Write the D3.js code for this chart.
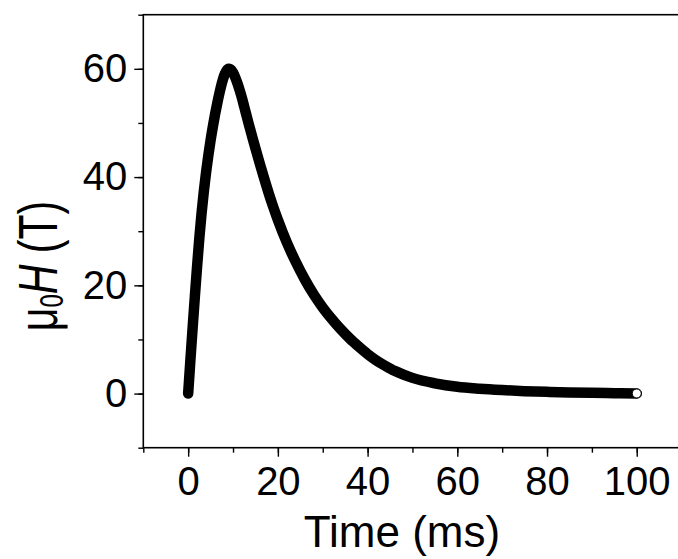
<!DOCTYPE html>
<html><head><meta charset="utf-8">
<script src="https://cdn.jsdelivr.net/npm/d3@7"></script>
<style>body{margin:0;background:#fff}svg{display:block}</style>
</head><body>
<script>
const timeMs = [0,0.5,1,1.5,2,2.5,3,3.5,4,4.5,5,5.5,6,6.5,7,7.5,8,8.5,9,9.5,10,10.5,11,11.5,12,12.5,13,13.5,14,15,16,17,18,19,20,22,24,26,28,30,32,34,36,38,40,42,44,46,48,50,55,60,65,70,75,80,85,90,95,100];
const fieldT = [0,6.2,12.2,18.0,23.6,28.8,33.4,37.4,40.9,44.0,46.8,49.3,51.6,53.7,55.6,57.3,58.7,59.6,60.0,59.9,59.3,58.4,57.3,56.0,54.6,53.0,51.4,49.8,48.3,45.3,42.4,39.6,36.9,34.4,32.1,27.9,24.3,21.1,18.3,15.9,13.8,11.9,10.2,8.7,7.3,6.1,5.1,4.2,3.5,2.9,1.9,1.25,0.9,0.65,0.45,0.32,0.22,0.14,0.07,0.02];
const xTicks = [0,20,40,60,80,100];
const yTicks = [0,20,40,60];
const xLabel = "Time (ms)";

const W = 678, H = 559;
const svg = d3.select("body").append("svg").attr("width", W).attr("height", H);
const x = d3.scaleLinear().domain([-10,110]).range([143.3,681.6]);
const y = d3.scaleLinear().domain([-10,70]).range([447.7,14.7]);
const font = "'Liberation Sans', Arial, sans-serif";

// frame
svg.append("rect").attr("x", x(-10)).attr("y", y(70)).attr("width", x(110)-x(-10)).attr("height", y(-10)-y(70))
  .attr("fill","none").attr("stroke","#000").attr("stroke-width",1.6);

// x axis
const xAxis = svg.append("g").attr("transform",`translate(0,${y(-10)})`);
xAxis.call(d3.axisBottom(x).tickValues(d3.range(-10,111,10)).tickSize(5).tickFormat(""))
  .call(g=>{g.select(".domain").remove(); g.selectAll("line").attr("stroke-width",1.4);});
xAxis.append("g").call(d3.axisBottom(x).tickValues(xTicks).tickSize(9).tickPadding(10))
  .call(g=>{g.select(".domain").remove(); g.selectAll("line").attr("stroke-width",1.4);
    g.selectAll("text").attr("font-family",font).attr("font-size",40).attr("fill","#000");});

// y axis
const yAxis = svg.append("g").attr("transform",`translate(${x(-10)},0)`);
yAxis.call(d3.axisLeft(y).tickValues(d3.range(-10,71,10)).tickSize(5).tickFormat(""))
  .call(g=>{g.select(".domain").remove(); g.selectAll("line").attr("stroke-width",1.4);});
yAxis.append("g").call(d3.axisLeft(y).tickValues(yTicks).tickSize(9).tickPadding(7))
  .call(g=>{g.select(".domain").remove(); g.selectAll("line").attr("stroke-width",1.4);
    g.selectAll("text").attr("font-family",font).attr("font-size",40).attr("fill","#000");});

// curve
const data = timeMs.map((t,i)=>({t, v: fieldT[i]}));
svg.append("path").datum(data)
  .attr("d", d3.line().x(d=>x(d.t)).y(d=>y(d.v)).curve(d3.curveMonotoneX))
  .attr("fill","none").attr("stroke","#000").attr("stroke-width",10.5)
  .attr("stroke-linecap","round").attr("stroke-linejoin","round");
const last = data[data.length-1];
svg.append("circle").attr("cx", x(last.t)).attr("cy", y(last.v)).attr("r",4.5)
  .attr("fill","#fff").attr("stroke","#000").attr("stroke-width",1);

// titles
svg.append("text").attr("x",402).attr("y",547).attr("text-anchor","middle")
  .attr("font-family",font).attr("font-size",44).text(xLabel);
const yt = svg.append("text").attr("transform","translate(57,266) rotate(-90) scale(1,1.37)").attr("text-anchor","middle")
  .attr("font-family",font).attr("font-size",41);
yt.append("tspan").text("μ");
yt.append("tspan").attr("font-size",24).attr("dy",4.5).text("0");
yt.append("tspan").attr("font-style","italic").attr("dy",-4.5).text("H");
yt.append("tspan").text(" (T)");
</script>
</body></html>
